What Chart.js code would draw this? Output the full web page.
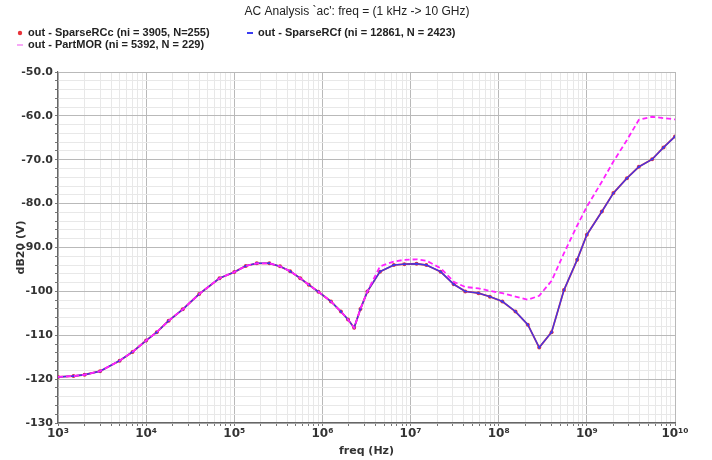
<!DOCTYPE html>
<html>
<head>
<meta charset="utf-8">
<title>AC Analysis</title>
<script src="https://cdn.jsdelivr.net/npm/chart.js@4.4.1/dist/chart.umd.min.js"></script>
<style>
  html, body { margin: 0; padding: 0; background: #fff; }
  #wrap { width: 712px; height: 460px; position: relative; }
</style>
</head>
<body>
<div id="wrap"><canvas id="ac"></canvas></div>
<script>
// ── Sweep data (dB20 of node "out") ─────────────────────────────────────
const freqHz = [
  1e3, 1.5e3, 2e3, 3e3, 5e3, 7e3, 1e4, 1.32e4, 1.8e4, 2.6e4, 4e4, 6.8e4,
  1e5, 1.35e5, 1.8e5, 2.5e5, 3.3e5, 4.3e5, 5.6e5, 7e5, 9e5, 1.25e6, 1.62e6,
  1.95e6, 2.29e6, 2.7e6, 3.24e6, 4.5e6, 6.46e6, 8.5e6, 1.17e7, 1.51e7, 2.19e7,
  3.09e7, 4.17e7, 5.89e7, 7.94e7, 1.1e8, 1.55e8, 2.14e8, 2.88e8, 3.98e8,
  5.5e8, 7.76e8, 1e9, 1.48e9, 2e9, 2.85e9, 3.89e9, 5.5e9, 7.41e9, 1e10,
];
const sparseRCc = [
  -119.5, -119.3, -119.0, -118.2, -115.8, -113.8, -111.2, -109.3, -106.7, -104.1, -100.6, -97.0,
  -95.6, -94.2, -93.6, -93.6, -94.3, -95.4, -97.0, -98.5, -100.1, -102.3, -104.6,
  -106.4, -108.3, -104.0, -100.0, -95.5, -94.0, -93.8, -93.7, -94.0, -95.5,
  -98.4, -100.0, -100.4, -101.2, -102.3, -104.6, -107.6, -112.8, -109.3,
  -99.7, -92.8, -87.1, -81.8, -77.6, -74.2, -71.6, -69.9, -67.2, -64.7,
];
const sparseRCf = [
  -119.5, -119.3, -119.0, -118.2, -115.8, -113.8, -111.2, -109.3, -106.7, -104.1, -100.6, -97.0,
  -95.6, -94.2, -93.6, -93.6, -94.3, -95.4, -97.0, -98.5, -100.1, -102.3, -104.6,
  -106.4, -108.3, -104.0, -100.0, -95.5, -94.0, -93.8, -93.7, -94.0, -95.5,
  -98.4, -100.0, -100.4, -101.2, -102.3, -104.6, -107.6, -112.8, -109.3,
  -99.7, -92.8, -87.1, -81.8, -77.6, -74.2, -71.6, -69.9, -67.2, -64.7,
];
const partMOR = [
  -119.5, -119.3, -119.0, -118.2, -115.8, -113.8, -111.2, -109.3, -106.7, -104.1, -100.6, -97.0,
  -95.6, -94.2, -93.6, -93.6, -94.3, -95.4, -97.0, -98.5, -100.1, -102.3, -104.6,
  -106.4, -108.3, -104.0, -100.0, -94.3, -93.2, -92.8, -92.7, -93.0, -94.7,
  -97.8, -99.0, -99.3, -99.9, -100.4, -101.2, -101.9, -101.0, -97.6,
  -91.3, -85.0, -80.7, -75.0, -70.4, -65.5, -60.9, -60.2, -60.5, -60.8,
];

const seriesNames = [
  "out - SparseRCc (ni = 3905, N=255)",
  "out - SparseRCf (ni = 12861, N = 2423)",
  "out - PartMOR (ni = 5392, N = 229)",
];
const chartTitle = "AC Analysis `ac': freq = (1 kHz -> 10 GHz)";
const xTitle = "freq (Hz)";
const yTitle = "dB20 (V)";
const yMin = -130, yMax = -50;
const decades = [3, 4, 5, 6, 7, 8, 9, 10];

const COLORS = { rcc: "#e8333a", rcf: "#3a3cf2", mor: "#ff22ff" };

const SUP = { "0": "⁰", "1": "¹", "2": "²", "3": "³", "4": "⁴", "5": "⁵", "6": "⁶", "7": "⁷", "8": "⁸", "9": "⁹" };
const sup = n => String(n).split("").map(c => SUP[c]).join("");

function isDecade(v) {
  const l = Math.log10(v);
  return Math.abs(l - Math.round(l)) < 1e-9;
}

// text squeezed horizontally to a given width (narrow UI font look)
function fitText(ctx, text, x, y, font, width, align) {
  ctx.save();
  ctx.font = font;
  const w = ctx.measureText(text).width;
  const s = Math.min(1, width / w);
  ctx.translate(x, y);
  ctx.scale(s, 1);
  ctx.textAlign = align || "left";
  ctx.fillText(text, 0, 0);
  ctx.restore();
}

// ── Header, legend and axis titles ───────────────────────────────────────
const decorations = {
  id: "decorations",
  afterDraw(chart) {
    const ctx = chart.ctx;
    const area = chart.chartArea;
    ctx.save();
    ctx.fillStyle = "#222";
    ctx.textBaseline = "middle";
    fitText(ctx, chartTitle, 357, 12, "12px 'Liberation Sans'", 249, "center");

    const legendFont = "bold 11px 'Liberation Sans'";
    const rows = [
      { x: 20, y: 33, color: COLORS.rcc, text: seriesNames[0], w: 195, dot: true },
      { x: 250, y: 33, color: COLORS.rcf, text: seriesNames[1], w: 210, dot: false },
      { x: 20, y: 45, color: "#f7a8f7", text: seriesNames[2], w: 192, dot: false },
    ];
    rows.forEach(r => {
      ctx.fillStyle = r.color;
      if (r.dot) {
        ctx.beginPath(); ctx.arc(r.x, r.y, 2.2, 0, Math.PI * 2); ctx.fill();
      } else {
        ctx.fillRect(r.x - 3, r.y - 1, 6, 2);
      }
      ctx.fillStyle = "#222";
      fitText(ctx, r.text, r.x + 8, r.y, legendFont, r.w, "left");
    });

    ctx.fillStyle = "#333";
    fitText(ctx, xTitle, (area.left + area.right) / 2, 451, "bold 11px 'DejaVu Sans'", 56, "center");
    ctx.save();
    ctx.translate(21, (area.top + area.bottom) / 2);
    ctx.rotate(-Math.PI / 2);
    fitText(ctx, yTitle, 0, 0, "bold 11px 'DejaVu Sans'", 54, "center");
    ctx.restore();
    ctx.restore();
  },
};

const tickFont = { family: "'DejaVu Sans'", size: 11, weight: "bold" };

new Chart(document.getElementById("ac"), {
  type: "line",
  data: {
    labels: freqHz,
    datasets: [
      {
        label: seriesNames[2],
        data: freqHz.map((f, i) => ({ x: f, y: partMOR[i] })),
        borderColor: COLORS.mor,
        borderWidth: 1.8,
        borderDash: [5, 3],
        pointRadius: 0,
        tension: 0,
        order: 0,
      },
      {
        label: seriesNames[1],
        data: freqHz.map((f, i) => ({ x: f, y: sparseRCf[i] })),
        borderColor: "rgba(50,52,245,0.9)",
        borderWidth: 1.4,
        pointRadius: 1.2,
        pointBackgroundColor: COLORS.rcf,
        pointBorderWidth: 0,
        tension: 0,
        order: 1,
      },
      {
        label: seriesNames[0],
        data: freqHz.map((f, i) => ({ x: f, y: sparseRCc[i] })),
        borderColor: COLORS.rcc,
        borderWidth: 1.8,
        pointRadius: 2,
        pointBackgroundColor: COLORS.rcc,
        pointBorderWidth: 0,
        tension: 0,
        order: 2,
      },
    ],
  },
  options: {
    responsive: true,
    maintainAspectRatio: false,
    animation: false,
    layout: { padding: { top: 72, right: 37, left: 0, bottom: 0 } },
    plugins: { legend: { display: false }, title: { display: false }, tooltip: { enabled: false } },
    scales: {
      x: {
        type: "logarithmic",
        min: 1e3,
        max: 1e10,
        afterBuildTicks(scale) {
          const t = [];
          decades.forEach(d => {
            for (let m = 1; m <= 9; m++) {
              const v = m * Math.pow(10, d);
              if (v <= 1e10 + 1) t.push({ value: v });
            }
          });
          scale.ticks = t;
        },
        afterFit(scale) {
          scale.height = 37;
          scale.paddingLeft = 0;
          scale.paddingRight = 0;
        },
        grid: {
          color: c => (c.tick && isDecade(c.tick.value) ? "#b9b9b9" : "#e8e8e8"),
          tickLength: 3,
          tickColor: "#777",
        },
        border: { color: "#666", width: 1.2 },
        ticks: {
          autoSkip: false,
          maxRotation: 0,
          padding: 1,
          color: "#333",
          font: { family: "'DejaVu Sans'", size: 12, weight: "bold" },
          callback: v => (isDecade(v) ? "10" + sup(Math.round(Math.log10(v))) : ""),
        },
      },
      y: {
        min: yMin,
        max: yMax,
        afterFit(scale) {
          scale.width = 58;
          scale.paddingTop = 0;
          scale.paddingBottom = 0;
        },
        grid: {
          color: c => (c.tick && c.tick.value % 10 === 0 ? "#b9b9b9" : "#e8e8e8"),
          tickLength: 3,
          tickColor: "#777",
        },
        border: { color: "#666", width: 1.2 },
        ticks: {
          stepSize: 2,
          autoSkip: false,
          padding: 2,
          color: "#333",
          font: tickFont,
          callback: v => (v % 10 === 0 ? (v > -100 ? v.toFixed(1) : String(v)) : ""),
        },
      },
    },
  },
  plugins: [decorations],
});
</script>
</body>
</html>
